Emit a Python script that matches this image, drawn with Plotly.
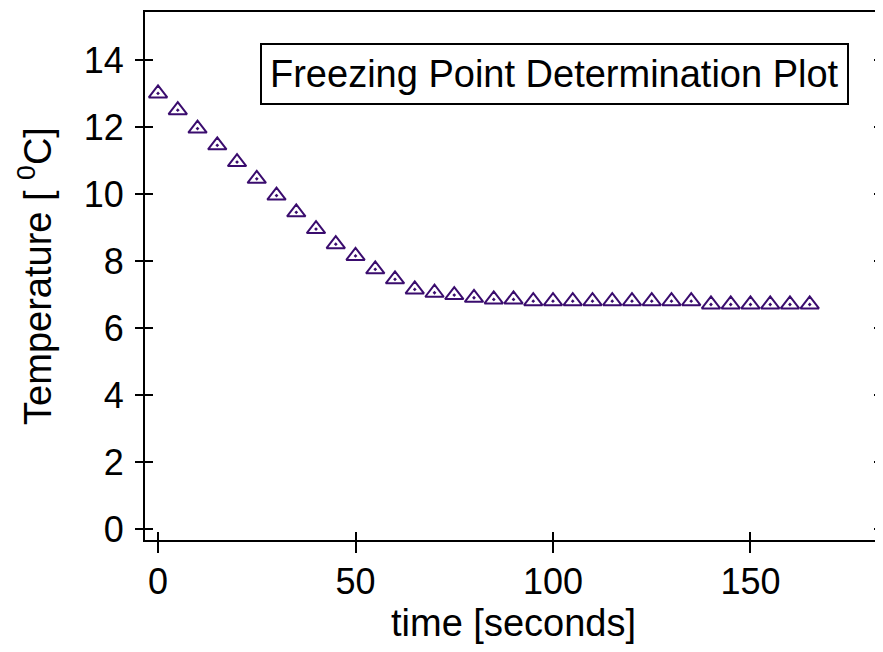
import plotly.graph_objects as go

# Data
time_s = [0, 5, 10, 15, 20, 25, 30, 35, 40, 45, 50, 55, 60, 65, 70, 75, 80, 85, 90,
          95, 100, 105, 110, 115, 120, 125, 130, 135, 140, 145, 150, 155, 160, 165]
temperature = [13.0, 12.5, 11.95, 11.45, 10.95, 10.45, 9.95, 9.45, 8.95, 8.5, 8.15, 7.75,
               7.45, 7.15, 7.05, 6.98, 6.9, 6.85, 6.85,
               6.8, 6.8, 6.8, 6.8, 6.8, 6.8, 6.8, 6.8, 6.8,
               6.7, 6.7, 6.7, 6.7, 6.7, 6.7]
x_ticks = [0, 50, 100, 150]
y_ticks = [0, 2, 4, 6, 8, 10, 12, 14]

FONT = "Liberation Sans, Arial, sans-serif"
MARK = "#3a0c6e"
XR = [-3.3, 183.3]
YR = [-0.33, 15.43]

fig = go.Figure()
fig.add_trace(go.Scatter(
    x=time_s, y=temperature, mode="markers",
    marker=dict(symbol="triangle-up-open-dot", size=16, color=MARK,
                line=dict(width=2, color=MARK)),
    showlegend=False, cliponaxis=False))
# empty trace to create the overlay axes for outside tick halves
fig.add_trace(go.Scatter(x=[], y=[], xaxis="x2", yaxis="y2", showlegend=False))

fig.update_layout(
    width=875, height=644,
    margin=dict(l=137, r=1, t=4, b=112, autoexpand=False),
    paper_bgcolor="white", plot_bgcolor="white",
    font=dict(family=FONT, color="black"),
    xaxis=dict(range=XR, tickvals=x_ticks, ticks="inside", ticklen=8, tickwidth=2,
               tickcolor="black", showline=True, linecolor="black", linewidth=2,
               mirror=True, showgrid=False, zeroline=False, automargin=False,
               tickfont=dict(size=36, family=FONT), ticklabelstandoff=9,
               title=dict(text="time [seconds]", font=dict(size=38, family=FONT), standoff=0)),
    yaxis=dict(range=YR, tickvals=y_ticks, ticks="inside", ticklen=8, tickwidth=2,
               tickcolor="black", showline=True, linecolor="black", linewidth=2,
               mirror="ticks", showgrid=False, zeroline=False, automargin=False,
               tickfont=dict(size=36, family=FONT), ticklabelstandoff=12,
               title=dict(text="Temperature [ <sup>0</sup>C]", font=dict(size=38, family=FONT),
                          standoff=20)),
    xaxis2=dict(range=XR, tickvals=x_ticks, overlaying="x", side="bottom", ticks="outside",
                ticklen=12, tickwidth=2, tickcolor="black", showticklabels=False,
                showline=False, showgrid=False, zeroline=False, automargin=False),
    yaxis2=dict(range=YR, tickvals=y_ticks, overlaying="y", side="left", ticks="outside",
                ticklen=9, tickwidth=2, tickcolor="black", showticklabels=False,
                showline=False, showgrid=False, zeroline=False, automargin=False),
    annotations=[dict(text="Freezing Point Determination Plot", xref="paper", yref="paper",
                      x=0.556, y=0.8826, xanchor="center", yanchor="middle", showarrow=False,
                      font=dict(size=38, family=FONT, color="black"),
                      bordercolor="black", borderwidth=2, borderpad=8, bgcolor="white")],
)

fig.write_html("out.html")
